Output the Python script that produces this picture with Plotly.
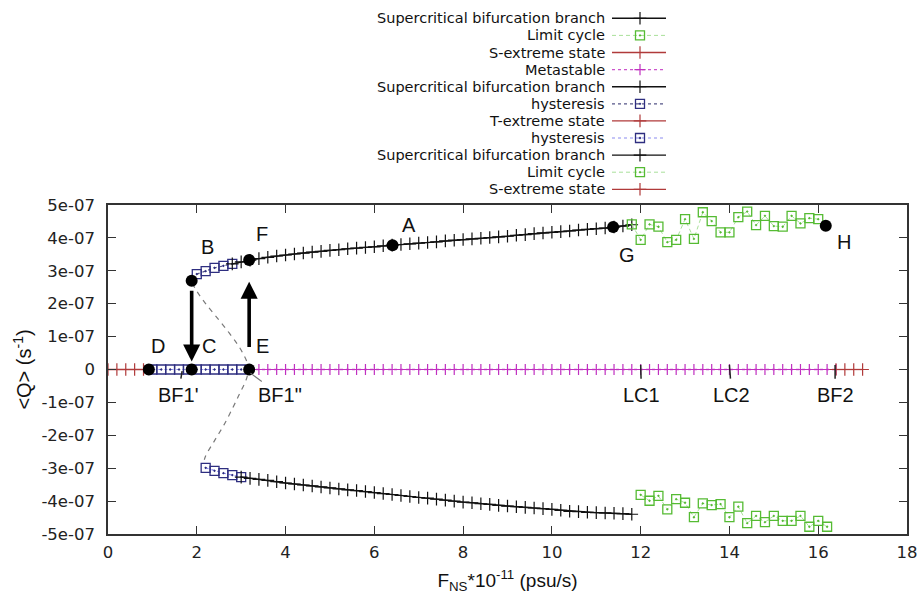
import plotly.graph_objects as go

SCALE = 1e-7  # all Q values below are in units of 1e-7 s^-1

# ---------------- axis ticks ----------------
x_tick_vals = [0, 2, 4, 6, 8, 10, 12, 14, 16, 18]
x_tick_text = ["0", "2", "4", "6", "8", "10", "12", "14", "16", "18"]
y_tick_vals = [5, 4, 3, 2, 1, 0, -1, -2, -3, -4, -5]
y_tick_text = ["5e-07", "4e-07", "3e-07", "2e-07", "1e-07", "0",
               "-1e-07", "-2e-07", "-3e-07", "-4e-07", "-5e-07"]

# ---------------- data ----------------
# upper supercritical branch (black +)
upper_branch_x = [2.8, 3.0, 3.2, 3.4, 3.6, 3.8, 4.0, 4.2, 4.4, 4.6, 4.8, 5.0, 5.2, 5.4, 5.6,
                  5.8, 6.0, 6.2, 6.4, 6.6, 6.8, 7.0, 7.2, 7.4, 7.6, 7.8, 8.0, 8.2, 8.4, 8.6,
                  8.8, 9.0, 9.2, 9.4, 9.6, 9.8, 10.0, 10.2, 10.4, 10.6, 10.8, 11.0, 11.2,
                  11.4, 11.6, 11.8]
upper_branch_y = [3.21, 3.27, 3.32, 3.37, 3.41, 3.45, 3.48, 3.51, 3.54, 3.57, 3.59, 3.62,
                  3.64, 3.67, 3.69, 3.71, 3.73, 3.76, 3.78, 3.80, 3.82, 3.84, 3.86, 3.88,
                  3.91, 3.93, 3.95, 3.97, 3.99, 4.01, 4.03, 4.05, 4.08, 4.10, 4.13, 4.15,
                  4.17, 4.19, 4.21, 4.24, 4.26, 4.28, 4.30, 4.33, 4.36, 4.40]

# lower supercritical branch (black +)
lower_branch_x = [3.0, 3.2, 3.4, 3.6, 3.8, 4.0, 4.2, 4.4, 4.6, 4.8, 5.0, 5.2, 5.4, 5.6,
                  5.8, 6.0, 6.2, 6.4, 6.6, 6.8, 7.0, 7.2, 7.4, 7.6, 7.8, 8.0, 8.2, 8.4, 8.6,
                  8.8, 9.0, 9.2, 9.4, 9.6, 9.8, 10.0, 10.2, 10.4, 10.6, 10.8, 11.0, 11.2,
                  11.4, 11.6, 11.8]
lower_branch_y = [-3.27, -3.31, -3.34, -3.37, -3.41, -3.45, -3.48, -3.51, -3.54, -3.57,
                  -3.60, -3.63, -3.66, -3.68, -3.71, -3.74, -3.77, -3.80, -3.83, -3.86,
                  -3.89, -3.91, -3.94, -3.97, -4.00, -4.03, -4.05, -4.08, -4.10, -4.13,
                  -4.15, -4.17, -4.19, -4.21, -4.23, -4.25, -4.28, -4.31, -4.32, -4.34,
                  -4.35, -4.36, -4.37, -4.38, -4.40]

# limit cycle (green squares)
upper_cycle_x = [11.8, 12.0, 12.2, 12.4, 12.6, 12.8, 13.0, 13.2, 13.4, 13.6, 13.8, 14.0,
                 14.2, 14.4, 14.6, 14.8, 15.0, 15.2, 15.4, 15.6, 15.8, 16.0]
upper_cycle_y = [4.41, 3.94, 4.41, 4.34, 3.87, 3.94, 4.57, 3.97, 4.78, 4.51, 4.17, 4.17,
                 4.63, 4.80, 4.39, 4.67, 4.36, 4.34, 4.67, 4.44, 4.60, 4.57]
lower_cycle_x = [12.0, 12.2, 12.4, 12.6, 12.8, 13.0, 13.2, 13.4, 13.6, 13.8, 14.0, 14.2,
                 14.4, 14.6, 14.8, 15.0, 15.2, 15.4, 15.6, 15.8, 16.0, 16.2]
lower_cycle_y = [-3.81, -3.99, -3.84, -4.25, -3.94, -4.05, -4.49, -4.07, -4.12, -4.09,
                 -4.49, -4.17, -4.67, -4.45, -4.64, -4.45, -4.60, -4.60, -4.45, -4.78,
                 -4.60, -4.78]

# hysteresis (navy squares)
upper_hyst_x = [2.0, 2.2, 2.4, 2.6, 2.8]
upper_hyst_y = [2.90, 2.99, 3.09, 3.15, 3.21]
lower_hyst_x = [2.2, 2.4, 2.6, 2.8, 3.0]
lower_hyst_y = [-2.99, -3.08, -3.15, -3.21, -3.27]
zero_hyst_x = [1.0, 1.2, 1.4, 1.6, 1.8, 2.0, 2.2, 2.4, 2.6, 2.8, 3.0]
zero_hyst_y = [0.0, 0.0, 0.0, 0.0, 0.0, 0.0, 0.0, 0.0, 0.0, 0.0, 0.0]

# extreme states and metastable state on the zero line
s_extreme_x = [0.0, 0.2, 0.4, 0.6, 0.8]
s_extreme_y = [0.0, 0.0, 0.0, 0.0, 0.0]
t_extreme_x = [16.4, 16.6, 16.8, 17.0]
t_extreme_y = [0.0, 0.0, 0.0, 0.0]
metastable_x = [3.2, 3.4, 3.6, 3.8, 4.0, 4.2, 4.4, 4.6, 4.8, 5.0, 5.2, 5.4, 5.6, 5.8, 6.0,
                6.2, 6.4, 6.6, 6.8, 7.0, 7.2, 7.4, 7.6, 7.8, 8.0, 8.2, 8.4, 8.6, 8.8, 9.0,
                9.2, 9.4, 9.6, 9.8, 10.0, 10.2, 10.4, 10.6, 10.8, 11.0, 11.2, 11.4, 11.6,
                11.8, 12.0, 12.2, 12.4, 12.6, 12.8, 13.0, 13.2, 13.4, 13.6, 13.8, 14.0,
                14.2, 14.4, 14.6, 14.8, 15.0, 15.2, 15.4, 15.6, 15.8, 16.0, 16.2, 16.4]
metastable_y = [0.0, 0.0, 0.0, 0.0, 0.0, 0.0, 0.0, 0.0, 0.0, 0.0,
                0.0, 0.0, 0.0, 0.0, 0.0, 0.0, 0.0, 0.0, 0.0, 0.0,
                0.0, 0.0, 0.0, 0.0, 0.0, 0.0, 0.0, 0.0, 0.0, 0.0,
                0.0, 0.0, 0.0, 0.0, 0.0, 0.0, 0.0, 0.0, 0.0, 0.0,
                0.0, 0.0, 0.0, 0.0, 0.0, 0.0, 0.0, 0.0, 0.0, 0.0,
                0.0, 0.0, 0.0, 0.0, 0.0, 0.0, 0.0, 0.0, 0.0, 0.0,
                0.0, 0.0, 0.0, 0.0, 0.0, 0.0, 0.0]

# unstable (dashed) branch
unstable_x = [1.9, 2.0, 2.19, 2.46, 2.73, 2.93, 3.06, 3.13, 3.16, 3.15, 3.11, 2.97, 2.82,
              2.61, 2.41, 2.19, 2.15]
unstable_y = [2.62, 2.38, 2.02, 1.57, 1.11, 0.74, 0.44, 0.23, 0.05, -0.12, -0.32, -0.72,
              -1.14, -1.69, -2.14, -2.66, -2.90]

# labelled key points (black dots)
point_names = ["D", "C", "E", "B", "F", "A", "G", "H"]
point_x = [0.92, 1.885, 3.18, 1.885, 3.18, 6.41, 11.38, 16.17]
point_y = [0.0, 0.0, 0.0, 2.70, 3.33, 3.78, 4.33, 4.37]
point_label_x = [1.12, 2.27, 3.48, 2.25, 3.48, 6.77, 11.69, 16.58]
point_label_y = [0.70, 0.70, 0.70, 3.72, 4.13, 4.38, 3.48, 3.87]

# bifurcation markers on the zero line
bif_names = ["BF1'", 'BF1"', "LC1", "LC2", "BF2"]
bif_x = [1.67, 3.21, 12.0, 14.0, 16.38]
bif_tip_y = [-0.05, -0.11, 0.14, 0.14, 0.14]
bif_label_x = [1.58, 3.88, 12.02, 14.05, 16.38]
bif_label_y = [-0.78, -0.78, -0.78, -0.78, -0.78]

# transition arrows (x, tail y, tip y)
arrow_x = [1.885, 3.18]
arrow_tail_y = [2.44, 0.64]
arrow_tip_y = [0.24, 2.67]

# legend entries (as in the original figure)
legend_names = ["Supercritical bifurcation branch", "Limit cycle", "S-extreme state",
                "Metastable", "Supercritical bifurcation branch", "hysteresis",
                "T-extreme state", "hysteresis", "Supercritical bifurcation branch",
                "Limit cycle", "S-extreme state"]
legend_kinds = ["branch", "cycle", "sext", "meta", "branch", "hyst1", "sext", "hyst2",
                "branch", "cycle", "sext"]

# ---------------- styles ----------------
STYLES = {
    "branch": dict(line=dict(color="#111111", width=1.4),
                   marker=dict(symbol="cross-thin", size=9, color="#111111",
                               line=dict(color="#111111", width=1.2))),
    "cycle": dict(line=dict(color="#a9e09a", width=1, dash="4px,3px"),
                  marker=dict(symbol="square-open-dot", size=9, color="#55bb33",
                              line=dict(width=1.3))),
    "sext": dict(line=dict(color="#b03a3a", width=1.3),
                 marker=dict(symbol="cross-thin", size=9, color="#b03a3a",
                             line=dict(color="#b03a3a", width=1.2))),
    "meta": dict(line=dict(color="#cc55cc", width=1.3, dash="dot"),
                 marker=dict(symbol="cross-thin", size=8, color="#c030c0",
                             line=dict(color="#c030c0", width=1.2))),
    "hyst1": dict(line=dict(color="#555588", width=1.2, dash="dot"),
                  marker=dict(symbol="square-open-dot", size=9, color="#2e2e80",
                              line=dict(width=1.3))),
    "hyst2": dict(line=dict(color="#8c8cf0", width=1.2, dash="dot"),
                  marker=dict(symbol="square-open-dot", size=9, color="#2e2e80",
                              line=dict(width=1.3))),
}

# legend drawing geometry (pixel-like units of the legend axes)
LEG_ROW0, LEG_STEP = 18.3, 17.1
LEG_TEXT_RIGHT, LEG_LINE_X0, LEG_LINE_X1, LEG_MARK_X = 607, 612, 666, 640


def sc(vals):
    return [v * SCALE for v in vals]


fig = go.Figure()


def add_series(x, y, kind, mode="lines+markers"):
    st = STYLES[kind]
    fig.add_trace(go.Scatter(x=x, y=sc(y), mode=mode, line=st["line"], marker=st["marker"],
                             showlegend=False, hoverinfo="skip", xaxis="x", yaxis="y"))


# unstable dashed branch
fig.add_trace(go.Scatter(x=unstable_x, y=sc(unstable_y), mode="lines",
                         line=dict(color="#7a7a7a", width=1.2, dash="5px,5px", shape="spline"),
                         showlegend=False, hoverinfo="skip"))

add_series(s_extreme_x, s_extreme_y, "sext")
add_series(metastable_x, metastable_y, "meta")
add_series(t_extreme_x, t_extreme_y, "sext")
add_series(zero_hyst_x, zero_hyst_y, "hyst2")
add_series(upper_hyst_x, upper_hyst_y, "hyst1")
add_series(lower_hyst_x, lower_hyst_y, "hyst2")
add_series(upper_branch_x, upper_branch_y, "branch")
add_series(lower_branch_x, lower_branch_y, "branch")
add_series(upper_cycle_x, upper_cycle_y, "cycle")
add_series(lower_cycle_x, lower_cycle_y, "cycle")

# key points
fig.add_trace(go.Scatter(x=point_x, y=sc(point_y), mode="markers",
                         marker=dict(symbol="circle", size=12, color="#000000"),
                         showlegend=False, hoverinfo="skip"))

annotations = []
LABEL_FONT = dict(family="Liberation Sans, Arial, sans-serif", size=20, color="#111111")

for name, lx, ly in zip(point_names, point_label_x, point_label_y):
    annotations.append(dict(x=lx, y=ly * SCALE, xref="x", yref="y", text=name,
                            showarrow=False, font=LABEL_FONT))

for name, bx, ty, lx, ly in zip(bif_names, bif_x, bif_tip_y, bif_label_x, bif_label_y):
    leader = '"' in name
    annotations.append(dict(x=bx, y=ty * SCALE, xref="x", yref="y",
                            ax=lx, ay=ly * SCALE, axref="x", ayref="y",
                            text=name, font=LABEL_FONT, showarrow=True, arrowhead=0,
                            arrowwidth=1.1 if leader else 1.5,
                            arrowcolor="#777777" if leader else "#222222",
                            startstandoff=2 if leader else 4))

for axx, tail, tip in zip(arrow_x, arrow_tail_y, arrow_tip_y):
    annotations.append(dict(x=axx, y=tip * SCALE, xref="x", yref="y",
                            ax=axx, ay=tail * SCALE, axref="x", ayref="y",
                            text="", showarrow=True, arrowhead=2, arrowsize=0.95,
                            arrowwidth=3.6, arrowcolor="#000000"))

# custom legend: right-aligned text, sample on the right
for i, (name, kind) in enumerate(zip(legend_names, legend_kinds)):
    ry = LEG_ROW0 + i * LEG_STEP
    st = STYLES[kind]
    fig.add_trace(go.Scatter(x=[LEG_LINE_X0, LEG_LINE_X1], y=[ry, ry], mode="lines",
                             line=st["line"], showlegend=False, hoverinfo="skip",
                             xaxis="x2", yaxis="y2"))
    fig.add_trace(go.Scatter(x=[LEG_MARK_X], y=[ry], mode="markers", marker=st["marker"],
                             showlegend=False, hoverinfo="skip", xaxis="x2", yaxis="y2"))
    annotations.append(dict(x=LEG_TEXT_RIGHT, y=ry, xref="x2", yref="y2", text=name,
                            xanchor="right", yanchor="middle", showarrow=False,
                            font=dict(family="DejaVu Sans", size=14.5, color="#111111")))

W, H = 921, 603
ML, MR, MT, MB = 108, 14, 0, 69
plot_h = H - MT - MB
main_top_px = 205
leg_bottom_px = 200
plot_w = W - ML - MR

axis_common = dict(showgrid=False, zeroline=False, showline=True, linecolor="#333333",
                   linewidth=1.5, mirror="allticks", ticks="inside", ticklen=8,
                   tickwidth=1.3, tickcolor="#333333", automargin=False,
                   tickfont=dict(family="DejaVu Sans", size=16.5, color="#222222"))

fig.update_layout(
    width=W, height=H,
    margin=dict(l=ML, r=MR, t=MT, b=MB, autoexpand=False),
    paper_bgcolor="white", plot_bgcolor="white",
    font=dict(family="DejaVu Sans", color="#111111"),
    showlegend=False,
    xaxis=dict(axis_common, domain=[0, 1], anchor="y", range=[0, 18],
               tickvals=x_tick_vals, ticktext=x_tick_text, ticklabelstandoff=2,
               title=dict(text="F<sub>NS</sub>*10<sup>-11</sup> (psu/s)",
                          font=dict(family="Liberation Sans, Arial", size=19,
                                    color="#111111"), standoff=13)),
    yaxis=dict(axis_common, domain=[0, (H - MB - main_top_px) / plot_h], anchor="x",
               range=[-5 * SCALE, 5 * SCALE],
               tickvals=sc(y_tick_vals), ticktext=y_tick_text, ticklabelstandoff=8,
               title=dict(text="&lt;Q&gt; (s<sup>-1</sup>)",
                          font=dict(family="Liberation Sans, Arial", size=20,
                                    color="#111111"), standoff=4)),
    xaxis2=dict(domain=[(600 - ML) / plot_w, (680 - ML) / plot_w], range=[600, 680],
                anchor="y2", visible=False, fixedrange=True, automargin=False),
    yaxis2=dict(domain=[(H - MB - leg_bottom_px) / plot_h, 1], range=[leg_bottom_px, 0],
                anchor="x2", visible=False, fixedrange=True, automargin=False),
    annotations=annotations,
)

fig.write_html("out.html")
